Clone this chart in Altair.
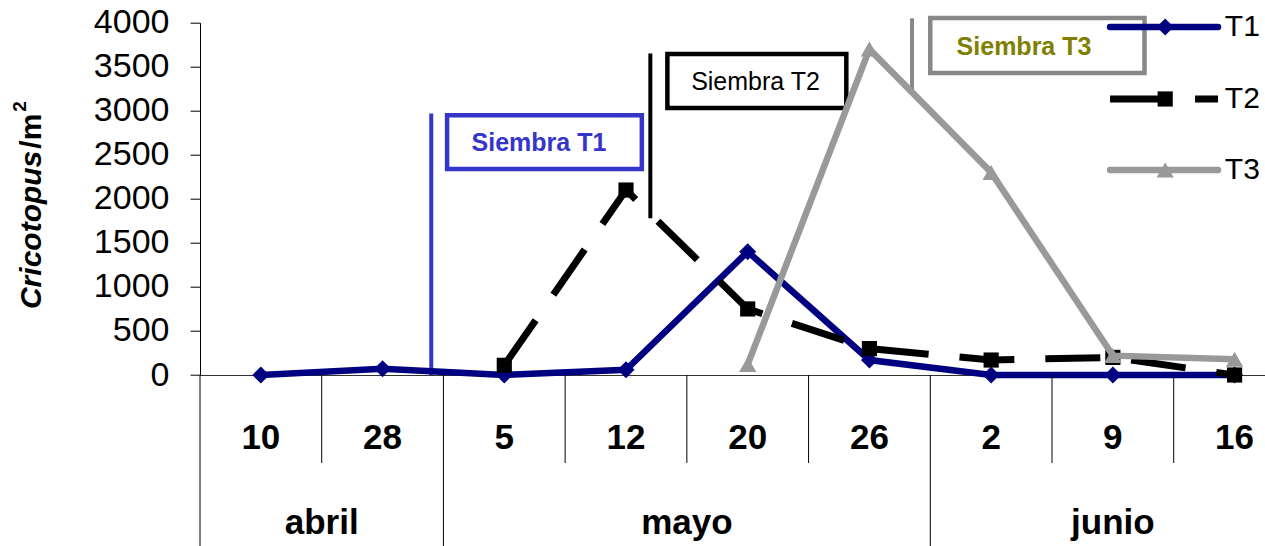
import altair as alt
import pandas as pd

# Sampling dates (day of month) and their months
days = ["10", "28", "5", "12", "20", "26", "2", "9", "16"]
months = ["abril", "mayo", "junio"]
month_span = [(-0.5, 1.5), (1.5, 5.5), (5.5, 8.5)]

# Cricotopus density (individuals / m2) per treatment
t1 = [0, 70, 0, 60, 1400, 170, 0, 0, 0]
t2 = [None, None, 110, 2100, 750, 300, 170, 200, 0]
t3 = [None, None, None, None, 120, 3700, 2300, 220, 180]

y_ticks = [0, 500, 1000, 1500, 2000, 2500, 3000, 3500, 4000]

FONT = "Liberation Sans"
NAVY = "#000080"
GREY = "#999999"
BLUE = "#3535C8"
OLIVE = "#808000"
LW = 6.5

# Plot-area geometry (pixels)
W, H = 1065, 352.3
PAD = {"left": 200, "top": 22.7, "right": 0, "bottom": 171}


def series_frame(values):
    rows = [{"idx": i, "v": v} for i, v in enumerate(values) if v is not None]
    return pd.DataFrame(rows)


xs = alt.Scale(domain=[-0.5, 8.25], nice=False, zero=False)
ys = alt.Scale(domain=[0, 4000], nice=False, zero=True)
xaxis = alt.Axis(labels=False, ticks=False, grid=False, domainColor="#333333",
                 domainWidth=1, title=None)
yaxis = alt.Axis(values=y_ticks, format="d", grid=False, tickSize=10,
                 tickColor="black", tickWidth=1, domainColor="black",
                 domainWidth=1, labelFont=FONT, labelFontSize=34,
                 labelColor="black", labelPadding=21, labelOverlap=False,
                 labelBound=False, title=None)


def X(field):
    return alt.X(field, type="quantitative", scale=xs, axis=xaxis)


def Y(field):
    return alt.Y(field, type="quantitative", scale=ys, axis=yaxis)


# ---- sowing annotations (vertical marker, framed label) ----
sow = pd.DataFrame({
    "label": ["Siembra T1", "Siembra T2", "Siembra T3"],
    "lx": [1.4, 3.2, 5.35],
    "ly0": [0, 1780, 3210],
    "ly1": [2970, 3650, 4050],
    "bx0": [1.53, 3.34, 5.50],
    "bx1": [3.13, 4.81, 7.26],
    "by0": [2340, 3032, 3429],
    "by1": [2950, 3645, 4053],
    "tx": [2.285, 4.064, 6.27],
    "ty": [2634, 3330, 3728],
})
sow_line_color = [BLUE, "black", "#888888"]
sow_text_color = [BLUE, "black", OLIVE]
sow_weight = ["bold", "normal", "bold"]

layers = []
for k in range(3):
    row = sow.iloc[[k]]
    layers.append(
        alt.Chart(row).mark_rule(color=sow_line_color[k], strokeWidth=4)
        .encode(x=X("lx"), y=Y("ly0"), y2="ly1")
    )
    layers.append(
        alt.Chart(row).mark_rect(fill="white", stroke=sow_line_color[k], strokeWidth=4.5)
        .encode(x=X("bx0"), x2="bx1", y=Y("by0"), y2="by1")
    )
    layers.append(
        alt.Chart(row).mark_text(font=FONT, fontSize=25, fontWeight=sow_weight[k],
                                 color=sow_text_color[k], align="center",
                                 baseline="middle")
        .encode(x=X("tx"), y=Y("ty"), text="label:N")
    )

# ---- data series ----
d1, d2, d3 = series_frame(t1), series_frame(t2), series_frame(t3)

layers += [
    alt.Chart(d1).mark_line(color=NAVY, strokeWidth=LW).encode(x=X("idx"), y=Y("v")),
    alt.Chart(d1).mark_point(shape="diamond", filled=True, size=290, color=NAVY, opacity=1)
    .encode(x=X("idx"), y=Y("v")),
    alt.Chart(d2).mark_line(color="black", strokeWidth=LW + 0.5, strokeDash=[55, 31],
                            strokeCap="butt").encode(x=X("idx"), y=Y("v")),
    alt.Chart(d2).mark_point(shape="square", filled=True, size=230, color="black", opacity=1)
    .encode(x=X("idx"), y=Y("v")),
    alt.Chart(d3).mark_line(color=GREY, strokeWidth=LW).encode(x=X("idx"), y=Y("v")),
    alt.Chart(d3).mark_point(shape="triangle-up", filled=True, size=300, color=GREY, opacity=1)
    .encode(x=X("idx"), y=Y("v")),
]

# ---- legend ----
leg_names = ["T1", "T2", "T3"]
leg_y = [3951, 3134, 2328]
leg_x0, leg_x1, leg_mx, leg_tx = 6.977, 7.864, 7.43, 7.92
leg_shape = ["diamond", "square", "triangle-up"]
leg_color = [NAVY, "black", GREY]
leg_size = [290, 230, 300]
for k in range(3):
    seg = pd.DataFrame({"idx": [leg_x0, leg_x1], "v": [leg_y[k]] * 2})
    if k == 1:
        line = alt.Chart(seg).mark_line(color="black", strokeWidth=LW + 0.5,
                                        strokeDash=[57, 28], strokeCap="butt")
    else:
        line = alt.Chart(seg).mark_line(color=leg_color[k], strokeWidth=LW,
                                        strokeCap="round")
    layers.append(line.encode(x=X("idx"), y=Y("v")))
    pt = pd.DataFrame({"idx": [leg_mx], "v": [leg_y[k]]})
    layers.append(
        alt.Chart(pt).mark_point(shape=leg_shape[k], filled=True, size=leg_size[k],
                                 color=leg_color[k], opacity=1)
        .encode(x=X("idx"), y=Y("v"))
    )
    lab = pd.DataFrame({"idx": [leg_tx], "v": [leg_y[k]], "name": [leg_names[k]]})
    layers.append(
        alt.Chart(lab).mark_text(font=FONT, fontSize=30, align="left",
                                 baseline="middle", color="black")
        .encode(x=X("idx"), y=Y("v"), text="name:N")
    )

# ---- two-level category axis (days, then months) ----
day_df = pd.DataFrame({"idx": list(range(len(days))), "day": days})
month_df = pd.DataFrame({
    "idx": [(a + b) / 2 if b < 8.5 else 7.0 for a, b in month_span],
    "month": months,
})
month_edges = sorted({a for a, _ in month_span})
short_edges = [i + 0.5 for i in range(len(days) - 1) if (i + 0.5) not in month_edges]

layers += [
    alt.Chart(pd.DataFrame({"idx": short_edges})).mark_rule(color="black", strokeWidth=1)
    .encode(x=X("idx"), y=alt.value(H), y2=alt.value(H + 88)),
    alt.Chart(pd.DataFrame({"idx": month_edges})).mark_rule(color="black", strokeWidth=1)
    .encode(x=X("idx"), y=alt.value(H), y2=alt.value(H + PAD["bottom"])),
    alt.Chart(day_df).mark_text(font=FONT, fontSize=35, fontWeight="bold",
                                baseline="middle", color="black")
    .encode(x=X("idx"), y=alt.value(H + 63), text="day:N"),
    alt.Chart(month_df).mark_text(font=FONT, fontSize=35, fontWeight="bold",
                                  baseline="middle", color="black")
    .encode(x=X("idx"), y=alt.value(H + 148), text="month:N"),
]

# ---- y-axis title: italic genus name followed by the unit ----
title_df = pd.DataFrame({"a": ["Cricotopus"], "b": ["/m"], "c": ["2"]})
layers += [
    alt.Chart(title_df).mark_text(font=FONT, fontSize=30, fontWeight="bold",
                                  fontStyle="italic", angle=270, align="right",
                                  baseline="middle", color="black")
    .encode(x=alt.value(-168), y=alt.value(128), text="a:N"),
    alt.Chart(title_df).mark_text(font=FONT, fontSize=30, fontWeight="bold",
                                  angle=270, align="left", baseline="middle",
                                  color="black")
    .encode(x=alt.value(-168), y=alt.value(126), text="b:N"),
    alt.Chart(title_df).mark_text(font=FONT, fontSize=19, fontWeight="bold",
                                  angle=270, align="left", baseline="middle",
                                  color="black")
    .encode(x=alt.value(-180), y=alt.value(89), text="c:N"),
]

chart = (
    alt.layer(*layers)
    .properties(width=W, height=H, padding=PAD,
                autosize=alt.AutoSizeParams(type="none"))
    .configure_view(stroke=None)
)

chart.save("out.html", embed_options={"renderer": "svg", "actions": False})
